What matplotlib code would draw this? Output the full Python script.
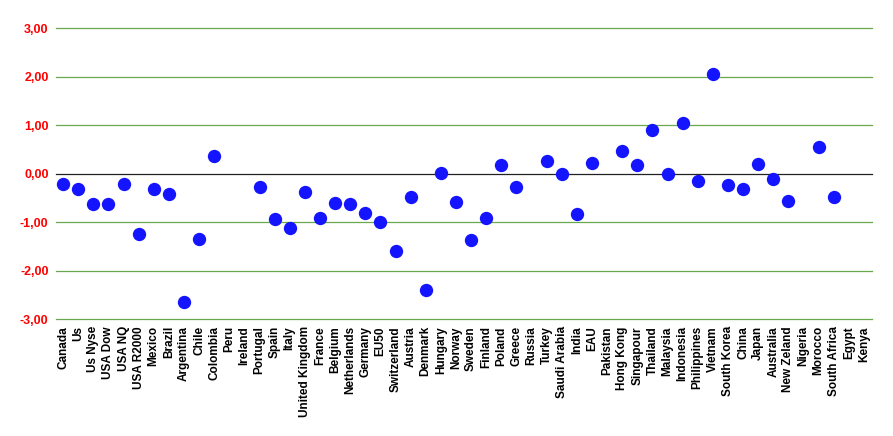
import numpy as np
import matplotlib.pyplot as plt

# categories and values
countries = ['Canada', 'Us', 'Us Nyse', 'USA Dow', 'USA NQ', 'USA R2000', 'Mexico', 'Brazil',
             'Argentina', 'Chile', 'Colombia', 'Peru', 'Ireland', 'Portugal', 'Spain', 'Italy',
             'United Kingdom', 'France', 'Belgium', 'Netherlands', 'Germany', 'EU50', 'Switzerland',
             'Austria', 'Denmark', 'Hungary', 'Norway', 'Sweden', 'Finland', 'Poland', 'Greece',
             'Russia', 'Turkey', 'Saudi Arabia', 'India', 'EAU', 'Pakistan', 'Hong Kong', 'Singapour',
             'Thailand', 'Malaysia', 'Indonesia', 'Philippines', 'Vietnam', 'South Korea', 'China',
             'Japan', 'Australia', 'New Zeland', 'Nigeria', 'Morocco', 'South Africa', 'Egypt', 'Kenya']

values = [-0.21, -0.32, -0.63, -0.63, -0.21, -1.24, -0.31, -0.41,
          -2.65, -1.35, 0.36, np.nan, np.nan, -0.27, -0.93, -1.11,
          -0.38, -0.91, -0.61, -0.62, -0.81, -1.00, -1.59,
          -0.48, -2.40, 0.02, -0.58, -1.36, -0.91, 0.19, -0.27,
          np.nan, 0.27, 0.00, -0.82, 0.23, np.nan, 0.46, 0.19,
          0.91, 0.00, 1.04, -0.14, 2.06, -0.23, -0.32,
          0.21, -0.10, -0.57, np.nan, 0.56, -0.47, np.nan, np.nan]

yticks = [-3, -2, -1, 0, 1, 2, 3]
ytick_labels = ['-3,00', '-2,00', '-1,00', '0,00', '1,00', '2,00', '3,00']

plt.rcParams['font.family'] = ['Liberation Sans', 'DejaVu Sans']

fig = plt.figure(figsize=(8.93, 4.36), dpi=100)
ax = fig.add_axes([55.5/893, 1-319.3/436, 816/893, 291/436])

x = np.arange(len(countries))

# gridlines
for t in yticks:
    ax.axhline(t, color='#222222' if t == 0 else '#6aa84f', lw=0.9, zorder=1, clip_on=False)

ax.plot(x, values, 'o', color='#1414ff', markersize=9.6, markeredgewidth=0, zorder=3)

ax.set_xlim(-0.5, len(countries) - 0.5)
ax.set_ylim(-3, 3)
ax.set_xticks(x)
ax.set_xticklabels(countries, rotation=90, fontsize=8.5, fontweight='bold')
ax.set_yticks(yticks)
ax.set_yticklabels(ytick_labels, fontsize=9, fontweight='bold', color='red')
ax.tick_params(length=0, pad=5)
for s in ax.spines.values():
    s.set_visible(False)

plt.savefig('out.png', dpi=100)
